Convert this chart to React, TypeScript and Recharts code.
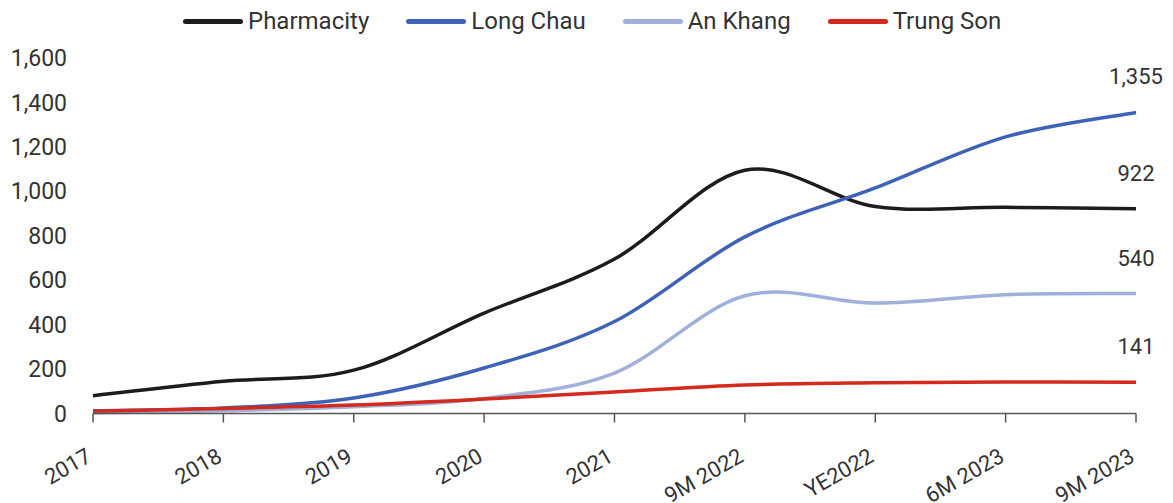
import { LineChart, Line, XAxis, YAxis } from "recharts";

const periods = ["2017", "2018", "2019", "2020", "2021", "9M 2022", "YE2022", "6M 2023", "9M 2023"];
const pharmacity = [80, 145, 195, 452, 695, 1095, 932, 928, 922];
const longChau = [12, 25, 70, 205, 414, 795, 1015, 1245, 1355];
const anKhang = [3, 12, 30, 68, 182, 530, 497, 535, 540];
const trungSon = [10, 23, 38, 65, 97, 128, 138, 142, 141];
const yTicks = [0, 200, 400, 600, 800, 1000, 1200, 1400, 1600];

const SERIES = [
  { key: "Pharmacity", values: pharmacity, color: "#1c1c1c" },
  { key: "Long Chau", values: longChau, color: "#3d62b6" },
  { key: "An Khang", values: anKhang, color: "#9fb1da" },
  { key: "Trung Son", values: trungSon, color: "#d4291d" },
];

const data = periods.map((period, i) => {
  const row: any = { period };
  SERIES.forEach((s) => {
    row[s.key] = s.values[i];
  });
  return row;
});

const TEXT = "#333333";
const FONT = "Roboto, 'Noto Sans', sans-serif";

// excel-like smoothed line (catmull-rom through the points)
const smoothCurve = (context: any) => {
  let pts: number[][] = [];
  return {
    areaStart() {},
    areaEnd() {},
    lineStart() {
      pts = [];
    },
    point(x: number, y: number) {
      pts.push([+x, +y]);
    },
    lineEnd() {
      const n = pts.length;
      if (!n) return;
      context.moveTo(pts[0][0], pts[0][1]);
      for (let i = 0; i < n - 1; i++) {
        const p0 = pts[i - 1] || pts[i];
        const p1 = pts[i];
        const p2 = pts[i + 1];
        const p3 = pts[i + 2] || p2;
        context.bezierCurveTo(
          p1[0] + (p2[0] - p0[0]) / 6,
          p1[1] + (p2[1] - p0[1]) / 6,
          p2[0] - (p3[0] - p1[0]) / 6,
          p2[1] - (p3[1] - p1[1]) / 6,
          p2[0],
          p2[1]
        );
      }
    },
  };
};

const XTick = ({ x, y, payload }: any) => (
  <g transform={`translate(${x},${y + 36})`}>
    <text textAnchor="end" transform="rotate(-30)" fontSize={22} fill={TEXT} fontFamily={FONT}>
      {payload.value}
    </text>
  </g>
);

const lastLabel = (props: any) => {
  const { x, y, index, value } = props;
  if (index !== periods.length - 1) return null;
  return (
    <text x={x} y={y - 28} textAnchor="middle" fontSize={22} fill={TEXT} fontFamily={FONT}>
      {Number(value).toLocaleString("en-US")}
    </text>
  );
};

const LegendRow = () => (
  <div
    style={{
      position: "absolute",
      left: 183,
      top: 7,
      display: "flex",
      alignItems: "center",
      gap: 37,
      fontFamily: FONT,
      fontSize: 24,
      color: TEXT,
      whiteSpace: "nowrap",
    }}
  >
    {SERIES.map((s) => (
      <div key={s.key} style={{ display: "flex", alignItems: "center" }}>
        <div style={{ width: 60, height: 5, borderRadius: 3, background: s.color, marginRight: 5 }} />
        <span>{s.key}</span>
      </div>
    ))}
  </div>
);

export default function App() {
  return (
    <div style={{ position: "absolute", left: 0, top: 0, width: 1173, height: 503, background: "#fff" }}>
      <LineChart width={1173} height={503} data={data} margin={{ top: 58, right: 37, left: 0, bottom: 0 }}>
        <XAxis
          dataKey="period"
          interval={0}
          height={89.5}
          tick={<XTick />}
          tickSize={9}
          axisLine={{ stroke: "#555555", strokeWidth: 1.5 }}
          tickLine={{ stroke: "#555555", strokeWidth: 1.5 }}
        />
        <YAxis
          width={93}
          domain={[0, 1600]}
          ticks={yTicks}
          axisLine={false}
          tickLine={false}
          tickMargin={20}
          tick={{ fontSize: 23, fill: TEXT, fontFamily: FONT }}
          tickFormatter={(v: number) => v.toLocaleString("en-US")}
        />
        {SERIES.map((s) => (
          <Line
            key={s.key}
            dataKey={s.key}
            type={smoothCurve as any}
            stroke={s.color}
            strokeWidth={3.5}
            dot={false}
            activeDot={false}
            isAnimationActive={false}
            label={lastLabel}
          />
        ))}
      </LineChart>
      <LegendRow />
    </div>
  );
}
